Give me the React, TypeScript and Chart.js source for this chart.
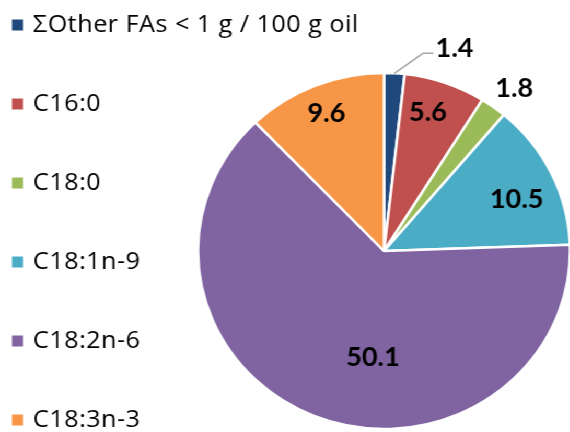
import React, { useEffect, useRef } from "react";
import { Chart, registerables } from "chart.js";

Chart.register(...registerables);

// Fatty acid composition (g / 100 g oil)
const categories = [
  "ΣOther FAs < 1 g / 100 g oil",
  "C16:0",
  "C18:0",
  "C18:1n-9",
  "C18:2n-6",
  "C18:3n-3",
];
const values = [1.4, 5.6, 1.8, 10.5, 50.1, 9.6];
const colors = ["#1F497D", "#C0504D", "#9BBB59", "#4BACC6", "#8064A2", "#F79646"];

// Where each value label sits: fraction of the radius and angular shift (deg) from the slice middle
const labelPlacement = [
  { rf: 1.0, da: 0, leader: { rf: 1.13, da: 7.5, tail: 10, gap: 2, dy: -5 } },
  { rf: 0.81, da: -2.2 },
  { rf: 1.15, da: 1.5 },
  { rf: 0.77, da: 3.8 },
  { rf: 0.6, da: -16.4 },
  { rf: 0.83, da: 0 },
];

const DEG = Math.PI / 180;
const LABEL_FONT = "Lato, 'Open Sans', sans-serif";
const LEGEND_FONT = "'Open Sans', Lato, sans-serif";

const valueLabelsPlugin = {
  id: "valueLabels",
  afterDatasetsDraw(chart: any) {
    const ctx = chart.ctx as CanvasRenderingContext2D;
    const meta = chart.getDatasetMeta(0);
    ctx.save();
    ctx.font = `bold 26px ${LABEL_FONT}`;
    ctx.fillStyle = "#000";
    ctx.textBaseline = "middle";
    meta.data.forEach((arc: any, i: number) => {
      const { x, y, startAngle, endAngle, outerRadius } = arc.getProps(
        ["x", "y", "startAngle", "endAngle", "outerRadius"],
        true
      );
      const mid = (startAngle + endAngle) / 2;
      const p: any = labelPlacement[i];
      const text = String(values[i]);
      if (p.leader) {
        const L = p.leader;
        const sx = x + outerRadius * p.rf * Math.cos(mid);
        const sy = y + outerRadius * p.rf * Math.sin(mid);
        const ea = mid + L.da * DEG;
        const ex = x + outerRadius * L.rf * Math.cos(ea);
        const ey = y + outerRadius * L.rf * Math.sin(ea);
        ctx.strokeStyle = "#A6A6A6";
        ctx.lineWidth = 1.5;
        ctx.beginPath();
        ctx.moveTo(sx, sy);
        ctx.lineTo(ex, ey);
        ctx.lineTo(ex + L.tail, ey);
        ctx.stroke();
        ctx.textAlign = "left";
        ctx.fillText(text, ex + L.tail + L.gap, ey + L.dy);
      } else {
        const a = mid + p.da * DEG;
        const r = outerRadius * p.rf;
        ctx.textAlign = "center";
        ctx.fillText(text, x + r * Math.cos(a), y + r * Math.sin(a));
      }
    });
    ctx.restore();
  },
};

// Vertical legend on the left, drawn on the same canvas
const sideLegendPlugin = {
  id: "sideLegend",
  afterDraw(chart: any) {
    const ctx = chart.ctx as CanvasRenderingContext2D;
    ctx.save();
    ctx.font = `24px ${LEGEND_FONT}`;
    (ctx as any).letterSpacing = "0.5px";
    ctx.textBaseline = "middle";
    ctx.textAlign = "left";
    categories.forEach((name, i) => {
      const cy = 25 + i * 79;
      ctx.fillStyle = colors[i];
      ctx.fillRect(11.5, cy - 5.5, 10.5, 11);
      ctx.fillStyle = "#000";
      ctx.fillText(name, 31.6, cy);
    });
    ctx.restore();
  },
};

export default function App() {
  const canvasRef = useRef<HTMLCanvasElement | null>(null);

  useEffect(() => {
    if (!canvasRef.current) return;
    const chart = new Chart(canvasRef.current, {
      type: "pie",
      data: {
        labels: categories,
        datasets: [
          {
            data: values,
            backgroundColor: colors,
            borderColor: "#FFFFFF",
            borderWidth: 2.5,
            radius: 178,
          } as any,
        ],
      },
      options: {
        animation: false,
        responsive: true,
        maintainAspectRatio: false,
        layout: { padding: { left: 189, top: 70, right: 0, bottom: 0 } },
        plugins: {
          legend: { display: false },
          tooltip: { enabled: false },
        },
      },
      plugins: [valueLabelsPlugin, sideLegendPlugin],
    });
    return () => chart.destroy();
  }, []);

  return (
    <div
      style={{
        position: "fixed",
        left: 0,
        top: 0,
        width: 546,
        height: 432,
        background: "#fff",
        transform: "scaleX(1.045)",
        transformOrigin: "0 0",
      }}
    >
      <canvas ref={canvasRef} />
    </div>
  );
}
